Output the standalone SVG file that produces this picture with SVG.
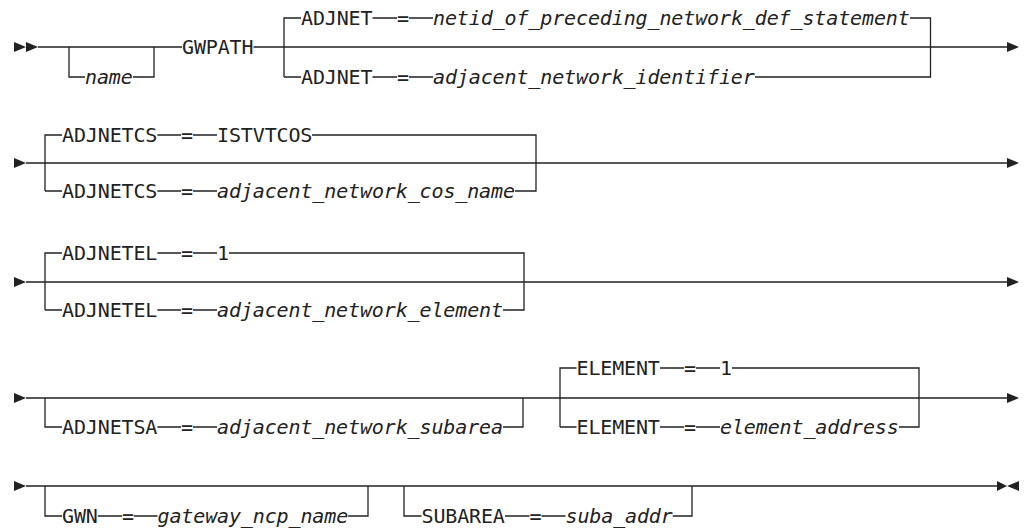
<svg xmlns="http://www.w3.org/2000/svg" width="1024" height="531" viewBox="0 0 1024 531">
<style>
.l{fill:none;stroke:#222;stroke-width:1.3}
.t{font-family:"DejaVu Sans Mono","Liberation Mono",monospace;font-size:20px;fill:#222}
.i{font-style:italic}
.a{fill:#222;stroke:none}
</style>
<rect width="1024" height="531" fill="#fff"/>
<g id="connectors">
<!-- row 1 -->
<path class="l" d="M38,47 H182 M253.5,47 H1007"/>
<path class="l" d="M69,47 V77 H85 M133,77 H154 V47"/>
<path class="l" d="M284,77 V18 H301 M372.5,18 H397 M409,18 H433 M910,18 H930.5 V77 H755 M433,77 H409 M397,77 H372.5 M301,77 H284"/>
<!-- row 2 -->
<path class="l" d="M26,163 H1007"/>
<path class="l" d="M45,191 V135 H62 M157.4,135 H181 M193,135 H217 M312,135 H536 V191 H515 M217,191 H193 M181,191 H157.4 M62,191 H45"/>
<!-- row 3 -->
<path class="l" d="M26,282 H1007"/>
<path class="l" d="M45,310 V253 H62 M157.4,253 H181 M193,253 H217 M229,253 H524 V310 H503 M217,310 H193 M181,310 H157.4 M62,310 H45"/>
<!-- row 4 -->
<path class="l" d="M26,398 H1007"/>
<path class="l" d="M45,398 V427 H62 M157.4,427 H181 M193,427 H217 M503,427 H523 V398"/>
<path class="l" d="M560,427 V368 H576.5 M660,368 H684 M696,368 H720 M732,368 H919 V427 H899 M720,427 H696 M684,427 H660 M576.5,427 H560"/>
<!-- row 5 -->
<path class="l" d="M26,486 H997"/>
<path class="l" d="M45,486 V516 H62 M97.8,516 H122 M134,516 H157.5 M348.2,516 H368 V486"/>
<path class="l" d="M404,486 V516 H421.5 M505,516 H529.5 M541.5,516 H565.5 M672.8,516 H692 V486"/>
<!-- arrowheads -->
<polygon class="a" points="14,42 26,47 14,52"/>
<polygon class="a" points="26,42 38,47 26,52"/>
<polygon class="a" points="1007,42 1019,47 1007,52"/>
<polygon class="a" points="14,158 26,163 14,168"/>
<polygon class="a" points="1007,158 1019,163 1007,168"/>
<polygon class="a" points="14,277 26,282 14,287"/>
<polygon class="a" points="1007,277 1019,282 1007,287"/>
<polygon class="a" points="14,393 26,398 14,403"/>
<polygon class="a" points="1007,393 1019,398 1007,403"/>
<polygon class="a" points="14,481 26,486 14,491"/>
<polygon class="a" points="997,481 1007,486 997,491"/>
<polygon class="a" points="1019,481 1007,486 1019,491"/>
</g>
<g id="name"><text class="t i" x="85" y="84" textLength="47.7">name</text></g>
<g id="gwpath"><text class="t" x="182" y="54" textLength="71.5">GWPATH</text></g>
<g id="adjnet-default"><text class="t" x="301" y="25" textLength="71.5">ADJNET</text><text class="t" x="397" y="25">=</text><text class="t i" x="433" y="25" textLength="476.8">netid_of_preceding_network_def_statement</text></g>
<g id="adjnet-id"><text class="t" x="301" y="84" textLength="71.5">ADJNET</text><text class="t" x="397" y="84">=</text><text class="t i" x="433" y="84" textLength="321.8">adjacent_network_identifier</text></g>
<g id="adjnetcs-default"><text class="t" x="62" y="142" textLength="95.4">ADJNETCS</text><text class="t" x="181" y="142">=</text><text class="t" x="217" y="142" textLength="95.4">ISTVTCOS</text></g>
<g id="adjnetcs-name"><text class="t" x="62" y="198" textLength="95.4">ADJNETCS</text><text class="t" x="181" y="198">=</text><text class="t i" x="217" y="198" textLength="298">adjacent_network_cos_name</text></g>
<g id="adjnetel-default"><text class="t" x="62" y="260" textLength="95.4">ADJNETEL</text><text class="t" x="181" y="260">=</text><text class="t" x="217" y="260">1</text></g>
<g id="adjnetel-element"><text class="t" x="62" y="317" textLength="95.4">ADJNETEL</text><text class="t" x="181" y="317">=</text><text class="t i" x="217" y="317" textLength="286">adjacent_network_element</text></g>
<g id="adjnetsa"><text class="t" x="62" y="434" textLength="95.4">ADJNETSA</text><text class="t" x="181" y="434">=</text><text class="t i" x="217" y="434" textLength="286">adjacent_network_subarea</text></g>
<g id="element-default"><text class="t" x="576.5" y="375" textLength="83.4">ELEMENT</text><text class="t" x="684" y="375">=</text><text class="t" x="720" y="375">1</text></g>
<g id="element-address"><text class="t" x="576.5" y="434" textLength="83.4">ELEMENT</text><text class="t" x="684" y="434">=</text><text class="t i" x="720" y="434" textLength="178.8">element_address</text></g>
<g id="gwn"><text class="t" x="62" y="523" textLength="35.8">GWN</text><text class="t" x="122" y="523">=</text><text class="t i" x="157.5" y="523" textLength="190.7">gateway_ncp_name</text></g>
<g id="subarea"><text class="t" x="421.5" y="523" textLength="83.4">SUBAREA</text><text class="t" x="529.5" y="523">=</text><text class="t i" x="565.5" y="523" textLength="107.3">suba_addr</text></g>
</svg>
